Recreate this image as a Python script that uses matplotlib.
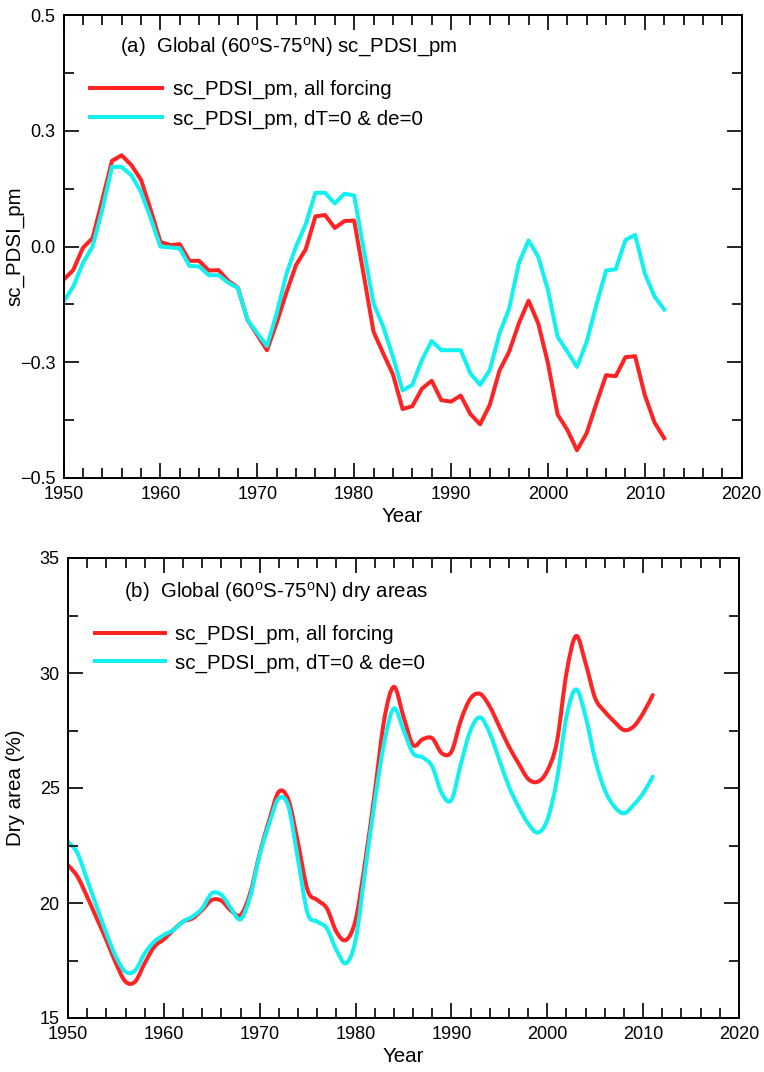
""" plot.py """

import numpy as np
import matplotlib
matplotlib.use("Agg")
import matplotlib.pyplot as plt
from matplotlib.path import Path
from matplotlib.patches import PathPatch
from matplotlib.lines import Line2D

plt.rcParams['font.family'] = ['Liberation Sans', 'DejaVu Sans']
plt.rcParams['mathtext.fontset'] = 'custom'
plt.rcParams['mathtext.rm'] = 'Liberation Sans'

# ---- data -----------------------------------------------------------------
years_a = np.arange(1950, 2013)
pdsi_all = [-0.072, -0.051, -0.003, 0.018, 0.100, 0.185, 0.197, 0.176, 0.144, 0.079,
            0.010, 0.003, 0.005, -0.031, -0.031, -0.052, -0.051, -0.074, -0.089, -0.159,
            -0.191, -0.224, -0.165, -0.100, -0.040, -0.006, 0.065, 0.068, 0.040, 0.055,
            0.056, -0.063, -0.184, -0.231, -0.276, -0.351, -0.345, -0.307, -0.290, -0.332,
            -0.335, -0.322, -0.362, -0.384, -0.342, -0.268, -0.227, -0.166, -0.117, -0.166,
            -0.252, -0.363, -0.396, -0.440, -0.403, -0.339, -0.278, -0.280, -0.239, -0.237,
            -0.321, -0.380, -0.414]
pdsi_fix = [-0.119, -0.087, -0.036, 0.000, 0.079, 0.172, 0.172, 0.154, 0.118, 0.061,
            0.000, -0.002, -0.004, -0.042, -0.043, -0.062, -0.062, -0.078, -0.090, -0.159,
            -0.187, -0.215, -0.145, -0.060, 0.000, 0.048, 0.116, 0.116, 0.093, 0.114,
            0.110, -0.008, -0.123, -0.173, -0.238, -0.311, -0.299, -0.245, -0.204, -0.224,
            -0.224, -0.224, -0.274, -0.299, -0.267, -0.188, -0.134, -0.036, 0.013, -0.022,
            -0.094, -0.195, -0.227, -0.260, -0.206, -0.126, -0.052, -0.049, 0.014, 0.025,
            -0.058, -0.108, -0.136]

years_b = np.arange(1950, 2012)
dry_all = [21.65, 21.14, 20.27, 19.33, 18.39, 17.38, 16.58, 16.58, 17.38, 18.10,
           18.42, 18.83, 19.19, 19.33, 19.70, 20.13, 20.10, 19.67, 19.48, 20.42,
           22.16, 23.61, 24.84, 24.48, 22.60, 20.55, 20.13, 19.77, 18.75, 18.39,
           19.26, 21.80, 24.80, 28.00, 29.40, 28.10, 26.87, 27.12, 27.16, 26.51,
           26.58, 27.96, 28.90, 29.09, 28.54, 27.67, 26.80, 26.07, 25.40, 25.27,
           25.75, 27.00, 29.99, 31.61, 30.42, 28.90, 28.32, 27.88, 27.52, 27.67,
           28.25, 29.04]
dry_fix = [22.67, 22.16, 21.00, 19.84, 18.68, 17.67, 17.01, 17.06, 17.81, 18.32,
           18.61, 18.83, 19.19, 19.41, 19.77, 20.42, 20.35, 19.77, 19.29, 20.27,
           22.09, 23.46, 24.55, 24.19, 21.87, 19.55, 19.19, 18.90, 17.96, 17.38,
           18.39, 21.40, 24.40, 27.00, 28.46, 27.52, 26.51, 26.33, 25.93, 24.77,
           24.48, 26.07, 27.52, 28.07, 27.38, 26.22, 25.06, 24.19, 23.46, 23.06,
           23.61, 25.35, 28.10, 29.29, 28.10, 26.22, 24.91, 24.19, 23.90, 24.26,
           24.77, 25.49]

lab_all = 'sc_PDSI_pm, all forcing'
lab_fix = 'sc_PDSI_pm, dT=0 & de=0'
yticks_a = [-0.5, -0.25, 0.0, 0.25, 0.5]
ylabels_a = ['\u22120.5', '\u22120.3', '0.0', '0.3', '0.5']
yticks_b = [15, 20, 25, 30, 35]
xticks = [1950, 1960, 1970, 1980, 1990, 2000, 2010, 2020]

RED = '#ff2424'
CYAN = '#12f0f0'
LW = 2.9
FS = 14.8
FS_TITLE = 14.7


# smooth curve through the points (Catmull-Rom as cubic Bezier path)
def _smooth_path(x, y):
    p = np.column_stack([x, y]).astype(float)
    pp = np.vstack([p[0], p, p[-1]])
    verts = [p[0]]
    codes = [Path.MOVETO]
    for i in range(1, len(pp) - 2):
        c1 = pp[i] + (pp[i + 1] - pp[i - 1]) / 6.0
        c2 = pp[i + 1] - (pp[i + 2] - pp[i]) / 6.0
        verts += [c1, c2, pp[i + 1]]
        codes += [Path.CURVE4] * 3
    return Path(verts, codes)


def _style_axes(ax):
    for sp in ax.spines.values():
        sp.set_linewidth(1.4)
    ax.tick_params(which='both', direction='in', top=True, right=True,
                   width=1.2, labelsize=13, pad=6)
    ax.tick_params(which='major', length=11)
    ax.tick_params(which='minor', length=7)
    ax.set_xlim(1950, 2020)
    ax.set_xticks(xticks)
    ax.set_xticks(np.arange(1950, 2021, 2), minor=True)
    ax.set_xlabel('Year', fontsize=FS, labelpad=3)


fig = plt.figure(figsize=(7.64, 10.72), dpi=100)

# Panel (a)
ax = fig.add_axes([63.5 / 764, 1 - 478 / 1072, 678.2 / 764, 463 / 1072])
ax.plot(years_a, pdsi_all, color=RED, lw=LW, solid_joinstyle='round', label=lab_all)
ax.plot(years_a, pdsi_fix, color=CYAN, lw=LW, solid_joinstyle='round', label=lab_fix)
_style_axes(ax)
ax.set_ylim(-0.5, 0.5)
ax.set_yticks(yticks_a, ylabels_a)
ax.set_yticks(np.arange(-0.5, 0.501, 0.125), minor=True)
ax.set_ylabel('sc_PDSI_pm', fontsize=FS)
ax.yaxis.set_label_coords(-0.058, 0.5)
ax.text(0.083, 0.931, r'(a)  Global (60$^{\rm o}$S-75$^{\rm o}$N) sc_PDSI_pm',
        transform=ax.transAxes, fontsize=FS_TITLE, va='center')
ax.legend(loc='upper left', bbox_to_anchor=(0.039, 0.860), frameon=False,
          fontsize=FS, handlelength=3.5, handletextpad=0.55, labelspacing=0.5,
          borderpad=0, borderaxespad=0)

# Panel (b)
ax = fig.add_axes([68 / 764, 1 - 1018 / 1072, 671 / 764, 460 / 1072])
for yy, col in [(dry_all, RED), (dry_fix, CYAN)]:
    ax.add_patch(PathPatch(_smooth_path(years_b, yy), fill=False, edgecolor=col,
                           lw=LW, capstyle='round', joinstyle='round'))
_style_axes(ax)
ax.set_ylim(15, 35)
ax.set_yticks(yticks_b)
ax.set_yticks(np.arange(15, 35.1, 2.5), minor=True)
ax.set_ylabel('Dry area (%)', fontsize=FS)
ax.yaxis.set_label_coords(-0.064, 0.5)
ax.text(0.0835, 0.927, r'(b)  Global (60$^{\rm o}$S-75$^{\rm o}$N) dry areas',
        transform=ax.transAxes, fontsize=FS_TITLE, va='center')
handles = [Line2D([], [], color=RED, lw=LW), Line2D([], [], color=CYAN, lw=LW)]
ax.legend(handles, [lab_all, lab_fix], loc='upper left', bbox_to_anchor=(0.040, 0.854),
          frameon=False, fontsize=FS, handlelength=3.4, handletextpad=0.5,
          labelspacing=0.45, borderpad=0, borderaxespad=0)

fig.savefig('out.png', dpi=100)
